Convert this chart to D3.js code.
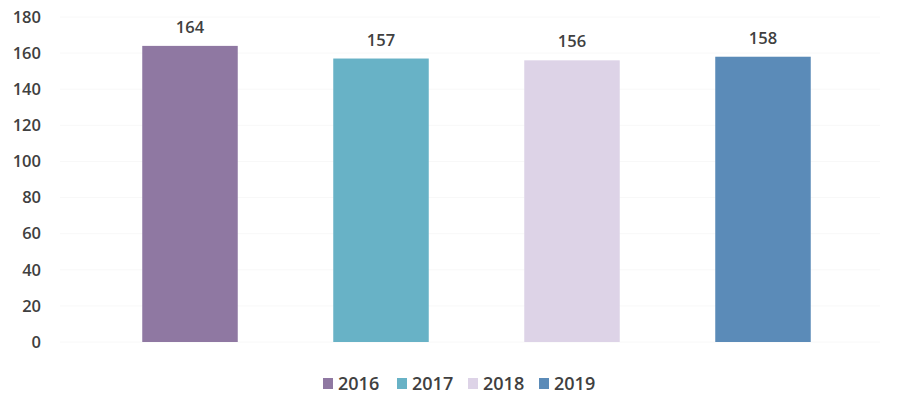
<!DOCTYPE html>
<html>
<head>
<meta charset="utf-8">
<script src="https://cdn.jsdelivr.net/npm/d3@7"></script>
<style>
  html, body { margin: 0; padding: 0; background: #fff; }
  svg { display: block; }
  text { font-family: "Open Sans", "DejaVu Sans", sans-serif; fill: #404040; }
</style>
</head>
<body>
<svg id="chart" width="909" height="395"></svg>
<script>
const years = ["2016", "2017", "2018", "2019"];
const values = [164, 157, 156, 158];
const colors = ["#8f78a2", "#68b2c6", "#ddd3e7", "#5b8bb8"];
const yTicks = [0, 20, 40, 60, 80, 100, 120, 140, 160, 180];

const svg = d3.select("#chart");
const plot = { left: 94.5, right: 858.5, top: 17, bottom: 342 };

const x = d3.scaleBand()
  .domain(years)
  .range([plot.left, plot.right])
  .paddingInner(0.5)
  .paddingOuter(0.25);
const y = d3.scaleLinear().domain([0, 180]).range([plot.bottom, plot.top]);

// faint horizontal gridlines
svg.append("g")
  .selectAll("line")
  .data(yTicks)
  .join("line")
  .attr("x1", 60)
  .attr("x2", 880)
  .attr("y1", d => y(d))
  .attr("y2", d => y(d))
  .attr("stroke", "#f8f8f8")
  .attr("stroke-width", 1);

// y axis labels
const yAxis = d3.axisLeft(y).tickValues(yTicks).tickSize(0).tickPadding(0);
const gy = svg.append("g").attr("transform", "translate(41,0)").call(yAxis);
gy.select(".domain").remove();
gy.selectAll("text")
  .style("font-family", "'Open Sans', 'DejaVu Sans', sans-serif")
  .style("font-size", "16.5px")
  .style("font-weight", "600")
  .attr("fill", "#404040");

// bars
svg.append("g")
  .selectAll("rect")
  .data(years)
  .join("rect")
  .attr("x", d => x(d))
  .attr("width", x.bandwidth())
  .attr("y", (d, i) => y(values[i]))
  .attr("height", (d, i) => y(0) - y(values[i]))
  .attr("fill", (d, i) => colors[i]);

// value labels
svg.append("g")
  .selectAll("text")
  .data(years)
  .join("text")
  .attr("x", d => x(d) + x.bandwidth() / 2)
  .attr("y", (d, i) => y(values[i]) - 13)
  .attr("text-anchor", "middle")
  .style("font-size", "16.5px")
  .style("font-weight", "600")
  .text((d, i) => values[i]);

// legend
const legendX = [323, 397, 468, 539];
const leg = svg.append("g")
  .selectAll("g")
  .data(years)
  .join("g")
  .attr("transform", (d, i) => `translate(${legendX[i]},378)`);
leg.append("rect")
  .attr("width", 10)
  .attr("height", 11)
  .attr("fill", (d, i) => colors[i]);
leg.append("text")
  .attr("x", 15)
  .attr("y", 11.5)
  .style("font-size", "18px")
  .style("font-weight", "600")
  .text(d => d);
</script>
</body>
</html>
